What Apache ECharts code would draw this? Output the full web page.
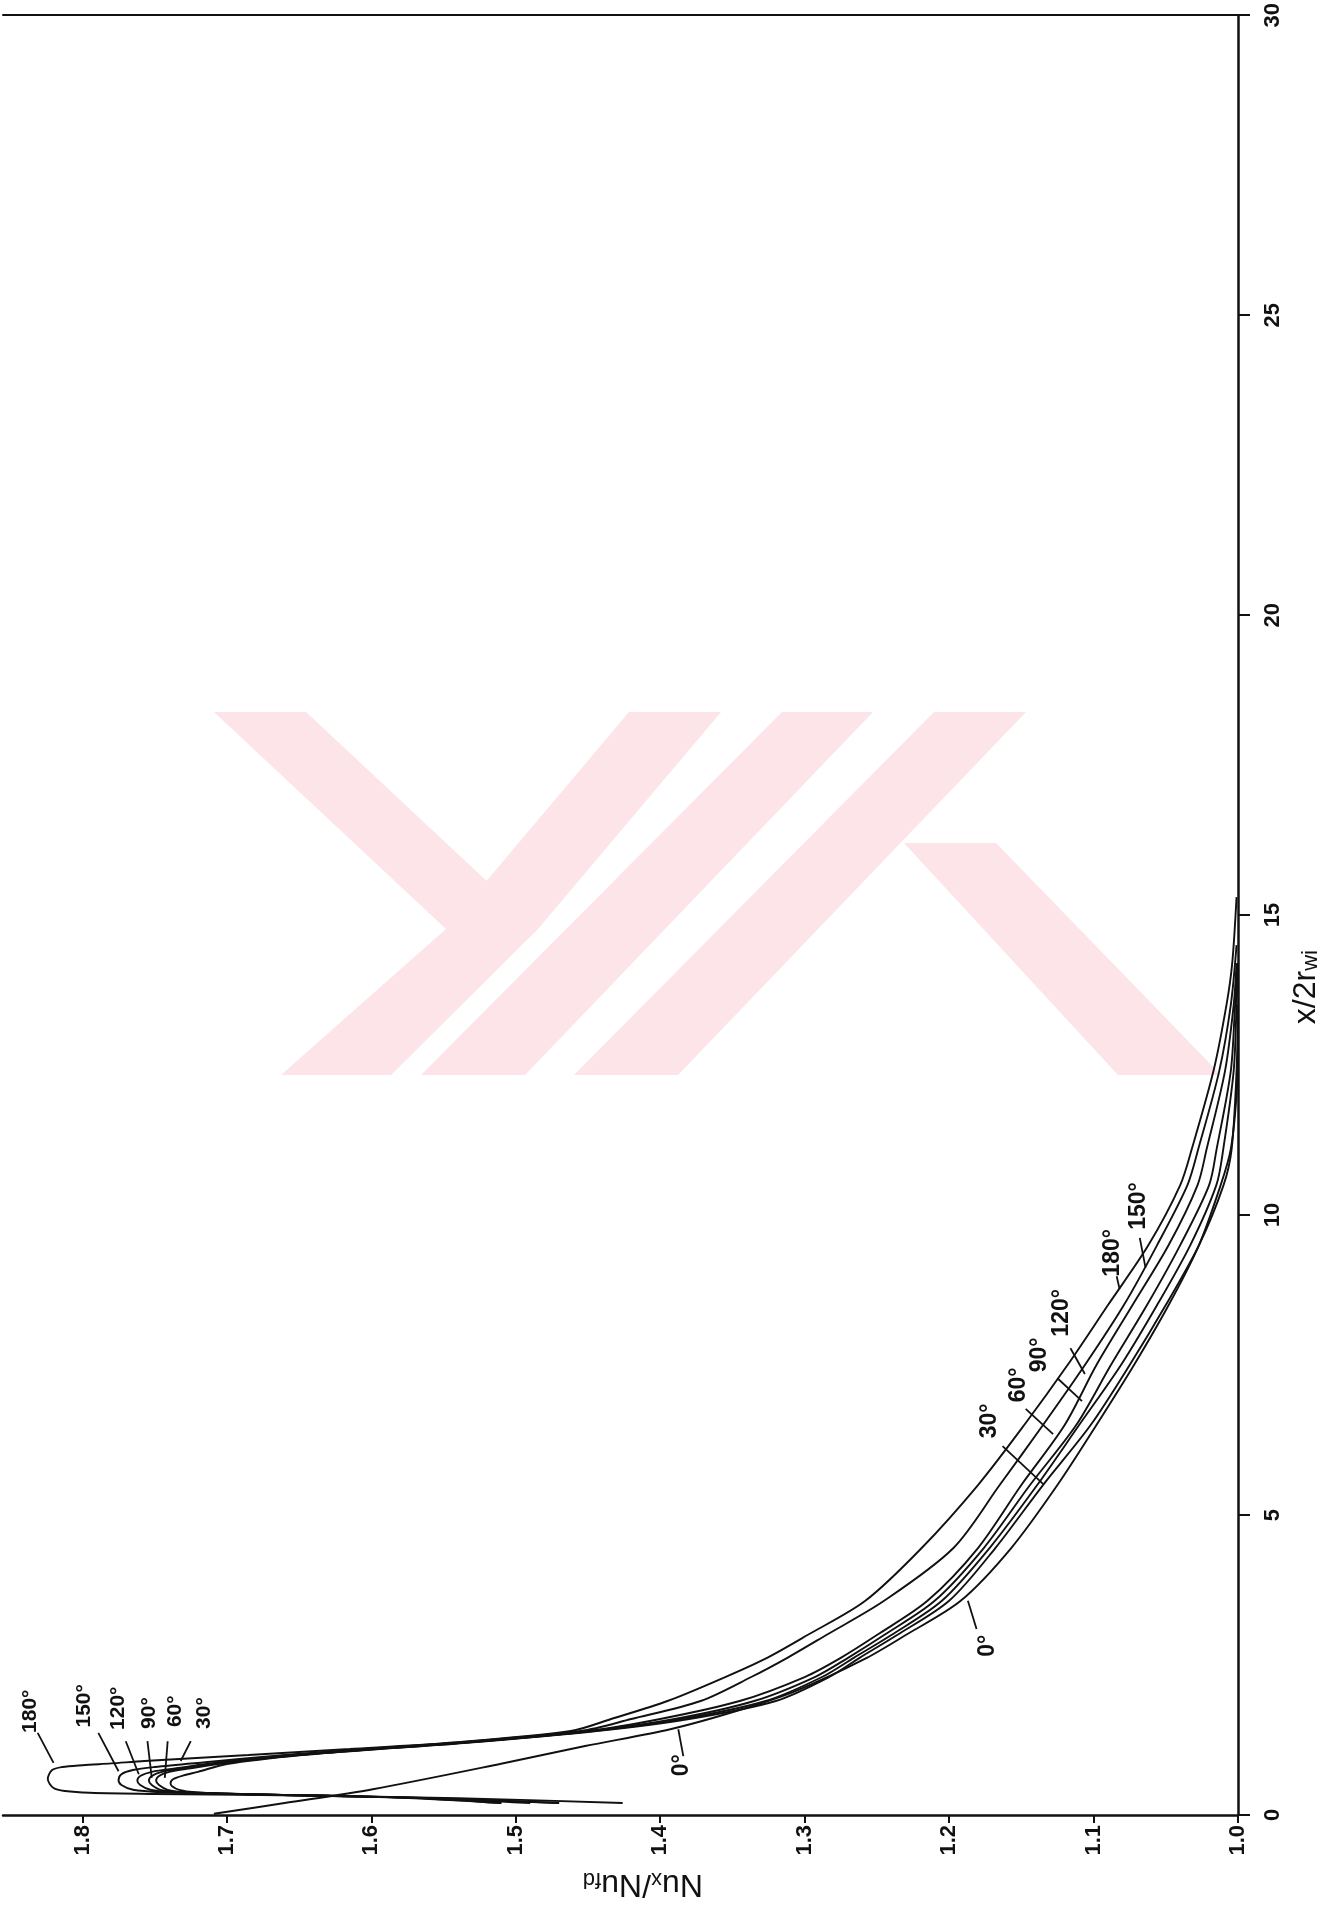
<!DOCTYPE html>
<html>
<head>
<meta charset="utf-8">
<script src="https://cdn.jsdelivr.net/npm/echarts@6/dist/echarts.min.js"></script>
<style>
  html, body { margin: 0; padding: 0; background: #ffffff; }
  #chart { width: 1335px; height: 1915px; }
</style>
</head>
<body>
<div id="chart"></div>
<script>
// Axis ticks: Nu_x/Nu_fd runs along the bottom (1.0 at the right), x/2r_wi up the right side.
const nuTicks = [1.0, 1.1, 1.2, 1.3, 1.4, 1.5, 1.6, 1.7, 1.8];
const xTicks = [0, 5, 10, 15, 20, 25, 30];

// Local Nusselt ratio curves, pairs of [x/2r_wi, Nu_x/Nu_fd], one per inclination angle.
const curve0 = [[0.02,1.709],[0.20,1.660],[0.43,1.599],[0.85,1.511],[1.15,1.452],[1.43,1.393],[1.75,1.345],[2.07,1.306],[2.62,1.257],[3.00,1.230],[3.57,1.192],[4.45,1.157],[5.50,1.125],[6.50,1.098],[7.50,1.072],[8.50,1.048],[9.50,1.027],[10.50,1.012],[11.10,1.005],[12.00,1.001],[12.80,1.000]];
const curve30 = [[0.20,1.510],[0.28,1.570],[0.32,1.635],[0.35,1.690],[0.38,1.722],[0.42,1.733],[0.48,1.738],[0.53,1.739],[0.60,1.737],[0.66,1.730],[0.72,1.720],[0.85,1.700],[1.00,1.648],[1.10,1.594],[1.20,1.536],[1.40,1.444],[1.60,1.380],[1.90,1.320],[2.30,1.283],[2.62,1.262],[3.00,1.236],[3.57,1.200],[4.45,1.168],[5.50,1.135],[6.50,1.102],[7.50,1.075],[8.50,1.050],[9.50,1.027],[10.50,1.010],[11.10,1.0044],[12.40,1.001],[13.50,1.000]];
const curve60 = [[0.20,1.510],[0.28,1.565],[0.32,1.632],[0.35,1.690],[0.38,1.727],[0.42,1.741],[0.50,1.747],[0.57,1.749],[0.65,1.747],[0.72,1.740],[0.78,1.725],[0.88,1.697],[1.00,1.650],[1.10,1.596],[1.20,1.538],[1.40,1.446],[1.60,1.385],[1.90,1.327],[2.30,1.288],[2.62,1.266],[3.00,1.240],[3.57,1.205],[4.45,1.172],[5.50,1.139],[6.50,1.110],[7.50,1.081],[8.50,1.056],[9.50,1.033],[10.50,1.015],[11.10,1.0102],[12.40,1.003],[13.50,1.001],[14.20,1.000]];
const curve90 = [[0.20,1.490],[0.28,1.560],[0.32,1.630],[0.35,1.690],[0.38,1.730],[0.42,1.746],[0.50,1.752],[0.57,1.754],[0.65,1.752],[0.72,1.745],[0.78,1.730],[0.88,1.700],[1.00,1.652],[1.10,1.598],[1.20,1.540],[1.40,1.448],[1.60,1.390],[1.90,1.335],[2.30,1.293],[2.62,1.270],[3.00,1.245],[3.57,1.210],[4.45,1.176],[5.50,1.144],[6.50,1.112],[7.50,1.088],[8.50,1.063],[9.50,1.040],[10.50,1.020],[11.10,1.0148],[12.40,1.005],[13.50,1.002],[14.20,1.000]];
const curve120 = [[0.20,1.470],[0.28,1.555],[0.32,1.630],[0.35,1.695],[0.38,1.737],[0.42,1.753],[0.50,1.760],[0.57,1.762],[0.65,1.760],[0.72,1.752],[0.78,1.735],[0.88,1.705],[1.00,1.655],[1.10,1.600],[1.20,1.542],[1.40,1.450],[1.60,1.400],[1.90,1.345],[2.30,1.300],[2.62,1.275],[3.00,1.250],[3.57,1.215],[4.45,1.180],[5.50,1.150],[6.50,1.120],[7.50,1.098],[8.50,1.073],[9.50,1.048],[10.50,1.028],[11.10,1.0217],[12.40,1.009],[13.50,1.003],[14.20,1.001]];
const curve150 = [[0.20,1.470],[0.28,1.560],[0.32,1.630],[0.35,1.700],[0.38,1.745],[0.42,1.765],[0.50,1.773],[0.58,1.775],[0.68,1.773],[0.75,1.765],[0.80,1.750],[0.88,1.715],[1.00,1.660],[1.10,1.605],[1.20,1.545],[1.40,1.455],[1.60,1.420],[1.90,1.372],[2.30,1.337],[2.62,1.312],[3.00,1.285],[3.57,1.245],[4.45,1.197],[5.50,1.165],[6.50,1.135],[7.50,1.106],[8.50,1.079],[9.50,1.056],[10.50,1.035],[11.10,1.0275],[12.40,1.013],[13.50,1.005],[14.50,1.001]];
const curve180 = [[0.20,1.426],[0.28,1.540],[0.32,1.633],[0.35,1.750],[0.37,1.795],[0.40,1.812],[0.45,1.820],[0.60,1.824],[0.75,1.821],[0.80,1.814],[0.83,1.800],[0.86,1.780],[0.90,1.757],[1.00,1.685],[1.10,1.615],[1.20,1.548],[1.40,1.462],[1.60,1.434],[1.90,1.395],[2.30,1.355],[2.62,1.326],[3.00,1.298],[3.57,1.258],[4.45,1.219],[5.50,1.180],[6.50,1.148],[7.50,1.118],[8.50,1.090],[9.50,1.062],[10.50,1.040],[11.10,1.032],[12.40,1.017],[13.50,1.008],[14.20,1.004],[15.30,1.001]];

const curveNames = ['0°', '30°', '60°', '90°', '120°', '150°', '180°'];
const curves = [curve0, curve30, curve60, curve90, curve120, curve150, curve180];

// Curve labels: text centre and leader line, given as [Nu_x/Nu_fd, x/2r_wi].
const peakLabels = [
  { text: '180°', at: [1.836, 1.73], lead: [[1.831, 1.37], [1.820, 0.87]] },
  { text: '150°', at: [1.799, 1.82], lead: [[1.789, 1.37], [1.775, 0.73]] },
  { text: '120°', at: [1.775, 1.78], lead: [[1.770, 1.23], [1.761, 0.68]] },
  { text: '90°',  at: [1.754, 1.70], lead: [[1.755, 1.23], [1.752, 0.62]] },
  { text: '60°',  at: [1.736, 1.73], lead: [[1.741, 1.23], [1.743, 0.62]] },
  { text: '30°',  at: [1.716, 1.70], lead: [[1.725, 1.23], [1.732, 0.90]] }
];
const midLabels = [
  { text: '30°',  at: [1.172, 6.57], lead: [[1.163, 6.15], [1.135, 5.52]] },
  { text: '60°',  at: [1.152, 7.17], lead: [[1.147, 6.77], [1.128, 6.35]] },
  { text: '90°',  at: [1.137, 7.67], lead: [[1.125, 7.28], [1.108, 6.90]] },
  { text: '120°', at: [1.122, 8.37], lead: [[1.116, 7.78], [1.106, 7.35]] },
  { text: '180°', at: [1.0865, 9.37], lead: [[1.084, 8.98], [1.082, 8.77]] },
  { text: '150°', at: [1.069, 10.15], lead: [[1.068, 9.62], [1.064, 9.12]] },
  { text: '0°',   at: [1.385, 0.83], lead: [[1.3875, 1.43], [1.384, 0.98]] },
  { text: '0°',   at: [1.173, 2.82], lead: [[1.187, 3.57], [1.181, 3.10]] }
];

const FONT = '"Liberation Sans", sans-serif';
const INK = '#111';
const chart = echarts.init(document.getElementById('chart'), null, { renderer: 'canvas' });

chart.setOption({
  animation: false,
  backgroundColor: '#ffffff',
  grid: { left: 3, right: 97, top: 15, bottom: 100 },
  xAxis: [
    {
      type: 'value', position: 'bottom', inverse: true, min: 1.0, max: 1.855,
      axisLine: { lineStyle: { color: INK, width: 2.5 } },
      axisTick: { customValues: nuTicks, length: 8, lineStyle: { color: INK, width: 2 } },
      axisLabel: {
        customValues: nuTicks, rotate: 90, margin: 10, formatter: v => v.toFixed(1),
        color: INK, fontFamily: FONT, fontWeight: 'bold', fontSize: 22
      },
      splitLine: { show: false }
    },
    {
      type: 'value', position: 'top', inverse: true, min: 1.0, max: 1.855,
      axisLine: { lineStyle: { color: INK, width: 2 } },
      axisTick: { show: false }, axisLabel: { show: false }, splitLine: { show: false }
    }
  ],
  yAxis: [{
    type: 'value', position: 'right', min: 0, max: 30, interval: 5,
    axisLine: { lineStyle: { color: INK, width: 2.5 } },
    axisTick: { length: 12, lineStyle: { color: INK, width: 2 } },
    axisLabel: { customValues: xTicks, rotate: 90, margin: 24, color: INK, fontFamily: FONT, fontWeight: 'bold', fontSize: 22 },
    splitLine: { show: false }
  }],
  series: curves.map((c, i) => ({
    name: curveNames[i],
    type: 'line',
    data: c.map(p => [p[1], p[0]]),
    showSymbol: false,
    smooth: 0.3,
    lineStyle: { color: INK, width: 1.9 },
    silent: true,
    z: 3
  }))
});

// Annotations placed through the chart's own coordinate conversion.
function px(p) { return chart.convertToPixel({ gridIndex: 0 }, p); }

function labelElements(list, fontSize) {
  const els = [];
  list.forEach(l => {
    const a = px(l.lead[0]), b = px(l.lead[1]);
    els.push({
      type: 'line', silent: true, z: 10,
      shape: { x1: a[0], y1: a[1], x2: b[0], y2: b[1] },
      style: { stroke: INK, lineWidth: 1.8 }
    });
    const c = px(l.at);
    els.push({
      type: 'text', silent: true, z: 10,
      x: c[0], y: c[1], rotation: Math.PI / 2,
      style: { text: l.text, fill: INK, font: 'bold ' + fontSize + 'px ' + FONT, align: 'center', verticalAlign: 'middle' }
    });
  });
  return els;
}

// Faint library stamp behind the plot
const stampColor = '#fce4e8';
const stampBands = [
  [[214, 712], [306, 712], [538, 929], [446, 929]],
  [[629, 712], [721, 712], [538, 929], [446, 929]],
  [[446, 929], [538, 929], [391, 1075], [281, 1075]],
  [[782, 712], [873, 712], [525, 1075], [421, 1075]],
  [[934, 712], [1026, 712], [678, 1075], [574, 1075]],
  [[904, 843], [996, 843], [1221, 1075], [1118, 1075]]
];
const stamp = stampBands.map(pts => ({
  type: 'polygon', silent: true, z: -10,
  shape: { points: pts },
  style: { fill: stampColor }
}));

const titleRich = {
  m: { fontFamily: FONT, fontSize: 32, fill: INK, lineHeight: 38, verticalAlign: 'bottom' },
  s: { fontFamily: FONT, fontSize: 22, fill: INK, lineHeight: 30, verticalAlign: 'bottom' }
};
const nuTitlePos = px([1.412, -1.2]);
const xTitlePos = px([0.955, 13.8]);
const titles = [
  {
    type: 'text', silent: true, z: 10,
    x: nuTitlePos[0], y: nuTitlePos[1], rotation: Math.PI,
    style: { text: '{m|Nu}{s|x}{m|/Nu}{s|fd}', align: 'center', verticalAlign: 'middle', rich: titleRich }
  },
  {
    type: 'text', silent: true, z: 10,
    x: xTitlePos[0], y: xTitlePos[1], rotation: Math.PI / 2,
    style: { text: '{m|x/2r}{s|wi}', align: 'center', verticalAlign: 'middle', rich: titleRich }
  }
];

chart.setOption({
  graphic: { elements: stamp.concat(labelElements(peakLabels, 21), labelElements(midLabels, 23), titles) }
});
</script>
</body>
</html>
